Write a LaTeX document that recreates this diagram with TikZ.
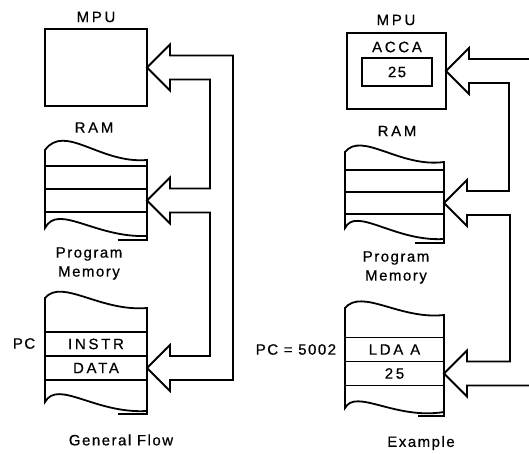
\documentclass[tikz,border=0pt]{standalone}
\usepackage{fontspec}
\setmainfont{Liberation Sans}[LetterSpace=10,FakeBold=0.6]
\usetikzlibrary{positioning,calc}

% hollow arrow head pointing at #1 (a node anchor)
\newcommand{\headin}[1]{-- ($(#1)+(23,-12)$) -- ($(#1)+(23,-23)$) -- (#1)
  -- ($(#1)+(23,23)$) -- ($(#1)+(23,12)$)}

\begin{document}
\begin{tikzpicture}[x=1pt,y=-1pt,line width=1.8pt,
          lbl/.style={font=\fontsize{15}{19}\selectfont,inner sep=0pt,align=center},
          wide/.style={font=\fontsize{15}{19}\selectfont\addfontfeature{LetterSpace=18}},
          box/.style={draw,inner sep=0pt,outer sep=0pt},
          cellL/.style={box,minimum width=102,minimum height=#1,lbl,wide},
          cellR/.style={box,minimum width=99,minimum height=#1,lbl,wide},
          bus/.style={draw,line join=miter}]
  \useasboundingbox (0,0) rectangle (529,454);

  % --- General Flow
  \node[lbl,wide] (mpuLtxt) at (96,17) {MPU};
  \node[box,minimum width=102,minimum height=77] (mpuL) at (96,67.5) {};
  \node[lbl,wide] (ramLtxt) at (94,127.5) {RAM};
  \node[cellL=23] (ramL1) at (96,177.5) {};
  \node[cellL=23,below=0pt of ramL1] (ramL2) {};
  \node[lbl] (progLtxt) at (89,263.5) {Program\\Memory};
  \node[cellL=24] (instrL) at (96,344) {INSTR};
  \node[cellL=24,below=0pt of instrL] (dataL) {DATA};
  \node[lbl] (pcL) at (24,343.5) {PC};
  \node[lbl] (titleL) at (121,440) {General Flow};

  % torn edges
  \draw (45,166) -- (45,150) .. controls (65,123) and (100,164) .. (147,160) -- (147,166);
  \draw (45,212) -- (45,228) .. controls (58,203) and (95,238) .. (147,236);
  \draw (147,212) -- (147,240) -- (118,240);
  \draw (45,332) -- (45,298) .. controls (62,278) and (100,312) .. (147,308) -- (147,332);
  \draw (45,380) -- (45,402) .. controls (58,379) and (95,414) .. (147,411);
  \draw (147,380) -- (147,414) -- (118,414);

  \draw[bus] ($(mpuL.east)+(86,-12)$) \headin{mpuL.east}
    -| ($(ramL2.east)+(63,-12)$) \headin{ramL2.east}
    -| ($(dataL.east)+(63,-12)$) \headin{dataL.east}
    -| ($(mpuL.east)+(86,-12)$) -- cycle;

  % --- Example
  \node[lbl,wide] (mpuRtxt) at (396,20) {MPU};
  \node[box,minimum width=99,minimum height=76] (mpuR) at (396.5,71) {};
  \node[lbl,wide] (accaR) at (397,47) {ACCA};
  \node[box,minimum width=70,minimum height=28,lbl] (accR) at (397,72) {25};
  \node[lbl,wide] (ramRtxt) at (397,131) {RAM};
  \node[cellR=22] (ramR1) at (394.5,181) {};
  \node[cellR=22,below=0pt of ramR1] (ramR2) {};
  \node[lbl] (progRtxt) at (396,267.5) {Program\\Memory};
  \node[cellR=24] (ldaR) at (394.5,349.5) {LDA A};
  \node[cellR=24,below=0pt of ldaR] (valR) {25};
  \node[lbl,anchor=east] (pcR) at (337,349.5) {PC = 5002};
  \node[lbl] (titleR) at (421,443) {Example};

  % torn edges
  \draw (345,170) -- (345,152) .. controls (362,131) and (400,168) .. (444,162) -- (444,170);
  \draw (345,214) -- (345,228) .. controls (356,206) and (395,242) .. (444,239);
  \draw (444,214) -- (444,243) -- (415,243);
  \draw (345,337.5) -- (345,308) .. controls (362,288) and (400,320) .. (444,315) -- (444,337.5);
  \draw (345,385.5) -- (345,408) .. controls (356,388) and (395,420) .. (444,412);
  \draw (444,385.5) -- (444,416) -- (418,416);

  \draw[bus] ($(mpuR.east)+(83,-12)$) \headin{mpuR.east}
    -| ($(ramR2.east)+(65,-12)$) \headin{ramR2.east}
    -| ($(valR.east)+(66,-12)$) \headin{valR.east}
    -- ++(64,0);
\end{tikzpicture}
\end{document}
